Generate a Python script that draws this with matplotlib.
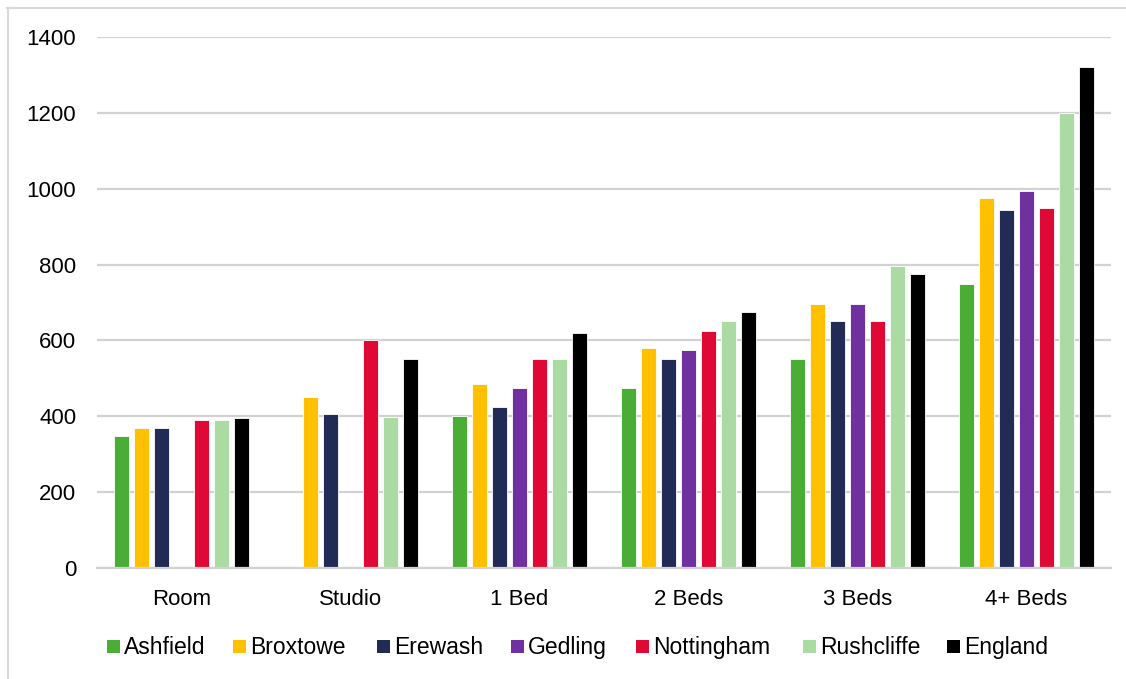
import numpy as np
import matplotlib
matplotlib.use("Agg")
import matplotlib.pyplot as plt
from matplotlib.patches import Rectangle
from matplotlib.lines import Line2D

plt.rcParams['font.family'] = ['Liberation Sans', 'DejaVu Sans']

categories = ["Room", "Studio", "1 Bed", "2 Beds", "3 Beds", "4+ Beds"]
areas = ["Ashfield", "Broxtowe", "Erewash", "Gedling", "Nottingham", "Rushcliffe", "England"]

ashfield = [348, np.nan, 400, 475, 550, 750]
broxtowe = [370, 450, 485, 580, 695, 975]
erewash = [368, 405, 425, 550, 650, 945]
gedling = [np.nan, np.nan, 475, 575, 695, 995]
nottingham = [390, 600, 550, 625, 650, 950]
rushcliffe = [390, 397, 550, 650, 795, 1200]
england = [396, 550, 620, 675, 775, 1320]

series = [ashfield, broxtowe, erewash, gedling, nottingham, rushcliffe, england]
colors = ["#4AAD35", "#FFC000", "#222A56", "#7030A0", "#E00834", "#A9DBA3", "#000000"]

W, H = 1126, 679
fig = plt.figure(figsize=(W / 100, H / 100), dpi=100)
ax = fig.add_axes([97 / W, 1 - 568 / H, (1111 - 97) / W, (568 - 37) / H])

x = np.arange(len(categories))
pitch = 0.1183
width = 0.092
for i, (vals, col) in enumerate(zip(series, colors)):
    ax.bar(x + (i - 3) * pitch, vals, width=width, color=col,
           edgecolor="white", linewidth=0.6, zorder=3)

ax.set_xlim(-0.5, len(categories) - 0.5)
ax.set_ylim(0, 1400)
ax.set_yticks(range(0, 1401, 200))
ax.set_xticks(x)
ax.set_xticklabels(categories)
ax.tick_params(axis="both", length=0, labelsize=16, colors="black")
ax.tick_params(axis="y", pad=15)
ax.tick_params(axis="x", pad=15)
ax.yaxis.grid(True, color="#d2d2d2", linewidth=1.6, zorder=0)
ax.set_axisbelow(True)
for side in ["top", "right", "left"]:
    ax.spines[side].set_visible(False)
ax.spines["bottom"].set_color("#d2d2d2")
ax.spines["bottom"].set_linewidth(1.6)
ax.spines["bottom"].set_zorder(4)

# legend row: square swatch followed by the area name, baseline aligned
entry_left = [107, 233, 377, 511, 636, 803, 947]
sq = 13
sq_top = 640
baseline = 654
for name, col, left in zip(areas, colors, entry_left):
    fig.add_artist(Rectangle((left / W, 1 - (sq_top + sq) / H), sq / W, sq / H,
                             facecolor=col, edgecolor="none",
                             transform=fig.transFigure))
    fig.text((left + sq + 4) / W, 1 - baseline / H, name, fontsize=16.5,
             ha="left", va="baseline", color="black")

# light frame around the chart area
fig.add_artist(Line2D([7 / W, 1.0], [1 - 8 / H, 1 - 8 / H], color="#d9d9d9",
                      linewidth=1.5, transform=fig.transFigure))
fig.add_artist(Line2D([8 / W, 8 / W], [1 - 8 / H, 0.0], color="#d9d9d9",
                      linewidth=1.5, transform=fig.transFigure))

fig.savefig("out.png", dpi=100)
